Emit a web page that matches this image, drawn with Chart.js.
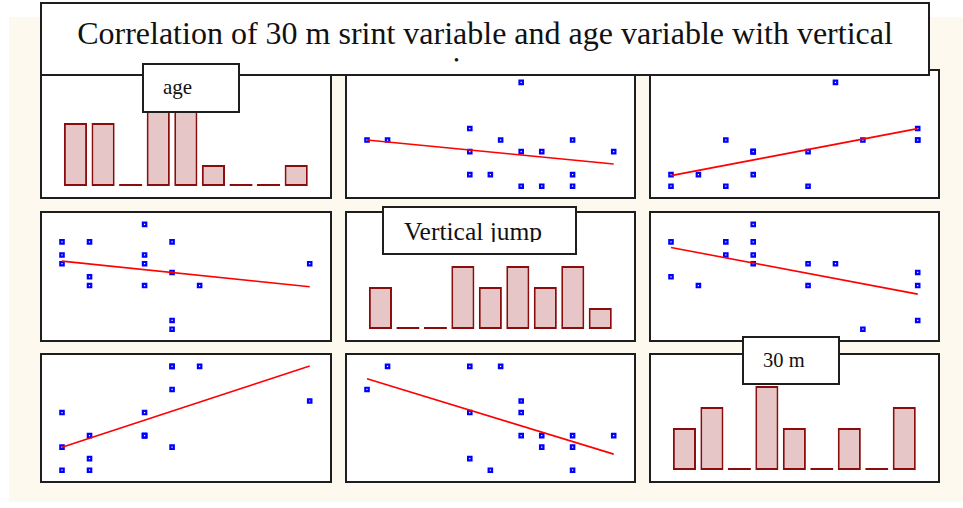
<!DOCTYPE html>
<html><head><meta charset="utf-8">
<script src="https://cdn.jsdelivr.net/npm/chart.js@4/dist/chart.umd.min.js"></script>
<style>
body{margin:0;background:#fff;width:963px;height:508px;position:relative;overflow:hidden;font-family:"Liberation Serif","Times New Roman",serif;}
#bg{position:absolute;left:9px;top:17px;width:954px;height:485px;background:#fef9ee;}
.panel{position:absolute;box-sizing:border-box;border:2px solid #1e1e1e;background:#fff;}
.panel canvas{position:absolute;left:-2px;top:-2px;}
.box{position:absolute;box-sizing:border-box;border:2px solid #1e1e1e;background:#fff;}
.clip{position:absolute;overflow:hidden;}
.txt{position:absolute;left:0;white-space:nowrap;color:#111;}
</style>
</head><body>
<div id="bg"></div>
<div id="panels"></div>
<div id="labels"></div>
<script>
// ---- data (16 subjects) ----
const varNames = ["age", "Vertical jump", "30 m"];
const ageVals    = [20,20,21,19,17,17,20,25,19,16,19,16,20,17,16,19];
const jumpVals   = [40,41,45,45,45,46,46.5,47.5,47.5,47.5,48.5,48.5,50,50,50,52];
const sprintVals = [4.7,4.9,4.9,4.5,4.1,4.0,4.9,4.6,4.3,4.5,4.3,4.2,4.2,4.3,4.0,4.3];
// histogram counts (9 bins each)
const binLabels    = ["1","2","3","4","5","6","7","8","9"];
const ageCounts    = [3,3,0,4,4,1,0,0,1];
const jumpCounts   = [2,0,0,3,2,3,2,3,1];
const sprintCounts = [2,3,0,4,2,0,2,0,3];
const titleText = "Correlation of 30 m srint variable and age variable with vertical";
const titleLine2 = "jump";

const vars = [ageVals, jumpVals, sprintVals];
const hists = [ageCounts, jumpCounts, sprintCounts];

// ---- layout ----
const cols = [{x:40,w:292},{x:345,w:291},{x:649,w:291}];
const rows = [{y:69,h:130},{y:211,h:131},{y:353,h:130}];
const pad = {left:22, right:22.3, top:13.4, bottom:12.8};
const countPx = 21;

function regress(xs, ys){
  const n = xs.length;
  const mx = xs.reduce((a,b)=>a+b,0)/n, my = ys.reduce((a,b)=>a+b,0)/n;
  let sxy=0,sxx=0;
  for(let i=0;i<n;i++){sxy+=(xs[i]-mx)*(ys[i]-my);sxx+=(xs[i]-mx)**2;}
  const b = sxy/sxx; return {a: my-b*mx, b};
}

const panelsDiv = document.getElementById('panels');
for(let r=0;r<3;r++){
  for(let c=0;c<3;c++){
    const P = document.createElement('div');
    P.className='panel';
    P.style.left=cols[c].x+'px'; P.style.top=rows[r].y+'px';
    P.style.width=cols[c].w+'px'; P.style.height=rows[r].h+'px';
    const cv = document.createElement('canvas');
    cv.width=cols[c].w; cv.height=rows[r].h;
    cv.style.width=cols[c].w+'px'; cv.style.height=rows[r].h+'px';
    P.appendChild(cv); panelsDiv.appendChild(P);
    if(r===c){
      const counts = hists[r];
      new Chart(cv,{
        type:'bar',
        data:{labels:binLabels,datasets:[{data:counts,backgroundColor:'#e6c6c6',borderColor:'#8a0c0c',borderWidth:2,
          borderSkipped:false,barPercentage:0.84,categoryPercentage:1,minBarLength:2}]},
        options:{responsive:false,animation:false,devicePixelRatio:1,
          layout:{padding:{left:21.7,right:22,top:0,bottom:13}},
          plugins:{legend:{display:false},tooltip:{enabled:false}},
          scales:{x:{display:false},y:{display:false,min:0,max:(rows[r].h-13)/countPx}}}
      });
    } else {
      const xs = vars[c], ys = vars[r];
      const pts = xs.map((v,i)=>({x:v,y:ys[i]}));
      const xmin=Math.min(...xs), xmax=Math.max(...xs), ymin=Math.min(...ys), ymax=Math.max(...ys);
      const fit = regress(xs, ys);
      new Chart(cv,{
        type:'scatter',
        data:{datasets:[
          {type:'line',data:[{x:xmin,y:fit.a+fit.b*xmin},{x:xmax,y:fit.a+fit.b*xmax}],borderColor:'#ff0000',borderWidth:1.6,pointRadius:0,clip:false,order:0},
          {type:'scatter',data:pts,pointStyle:'rect',radius:2.4,borderColor:'#0000ff',backgroundColor:'#ffffff',borderWidth:2.2,clip:false,order:1}
        ]},
        options:{responsive:false,animation:false,devicePixelRatio:1,
          layout:{padding:pad},
          plugins:{legend:{display:false},tooltip:{enabled:false}},
          scales:{x:{type:'linear',display:false,min:xmin,max:xmax},y:{type:'linear',display:false,min:ymin,max:ymax}}}
      });
    }
  }
}

// ---- labels ----
const L = document.getElementById('labels');
function addBox(x,y,w,h){const d=document.createElement('div');d.className='box';Object.assign(d.style,{left:x+'px',top:y+'px',width:w+'px',height:h+'px'});L.appendChild(d);}
function addText(text,size,baseline,x,center,clipTop,clipBottom,clipL,clipR,lh){
  const cl=document.createElement('div');cl.className='clip';
  Object.assign(cl.style,{left:clipL+'px',top:clipTop+'px',width:(clipR-clipL)+'px',height:(clipBottom-clipTop)+'px'});
  const t=document.createElement('div');t.className='txt';
  const lineH = lh||size*1.2;
  const baseOff=(lineH-1.107*size)/2+0.891*size;
  t.style.fontSize=size+'px';t.style.lineHeight=lineH+'px';
  t.style.top=(baseline-baseOff-clipTop)+'px';
  if(center){t.style.width=(clipR-clipL)+'px';t.style.textAlign='center';t.style.left='0px';}
  else{t.style.left=(x-clipL)+'px';}
  t.innerHTML=text;
  cl.appendChild(t);L.appendChild(cl);
}
// title
addBox(40,2,890,74);
addText(titleText+'<br>'+titleLine2,32,44.5,0,true,4,62,42,928,35);
// variable labels
addBox(142,63,98,50);
addText(varNames[0],21,94.3,163,false,65,111,144,238);
addBox(382,206,195,49);
addText(varNames[1],25.5,240.5,404,false,208,242,384,575);
addBox(742,336,98,49);
addText(varNames[2],20.5,367.3,763,false,338,383,744,838);
</script>
</body></html>
